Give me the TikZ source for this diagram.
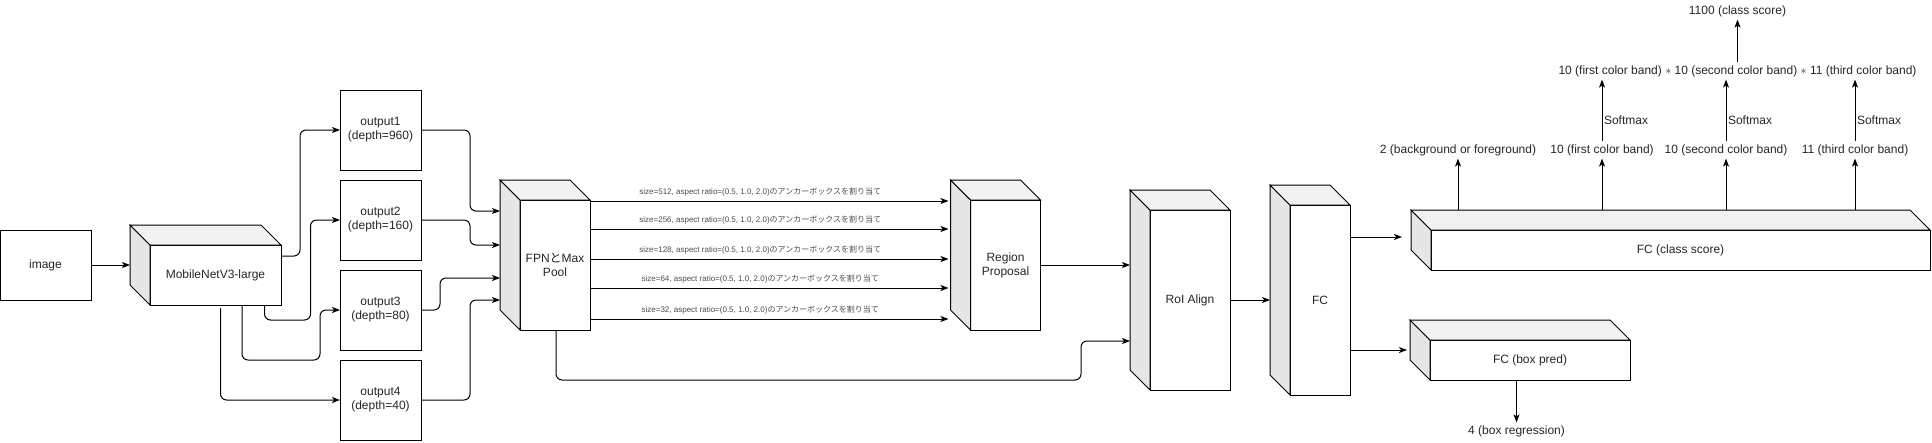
\documentclass[tikz,border=0pt]{standalone}
\usepackage{fontspec}
\setmainfont{Liberation Sans}
\newfontfamily\jp{Noto Sans CJK JP}
\usetikzlibrary{arrows.meta}
\definecolor{topgray}{HTML}{F2F2F2}
\definecolor{sidegray}{HTML}{E6E6E6}

\begin{document}
\begin{tikzpicture}[
    x=1pt, y=-1pt,
    every node/.style={outer sep=0pt, font=\fontsize{12}{14}\selectfont, text=black!85},
    box/.style={draw, line width=1pt, fill=white, align=center},
    lbl/.style={inner sep=3pt},
    tiny/.style={font=\fontsize{8}{9}\selectfont, text=black!70, inner sep=1pt},
    >={Stealth[length=8pt,width=6pt,inset=2pt]},
    every path/.style={line width=1pt}
]
\useasboundingbox (0,0) rectangle (1932,442);

% Nodes
\node[box, minimum width=91pt, minimum height=70pt] (img) at (45.5,265) {image};
\node[box, minimum width=131pt, minimum height=60pt] (mnet) at (215.5,275) {MobileNetV3-large};
\node[box, minimum width=81pt, minimum height=80pt] (out1) at (380.5,130) {output1\\(depth=960)};
\node[box, minimum width=81pt, minimum height=80pt] (out2) at (380.5,220) {output2\\(depth=160)};
\node[box, minimum width=81pt, minimum height=80pt] (out3) at (380.5,310) {output3\\(depth=80)};
\node[box, minimum width=81pt, minimum height=80pt] (out4) at (380.5,400) {output4\\(depth=40)};
\node[box, minimum width=70pt, minimum height=130pt] (fpn) at (555,265) {FPN{\jp と}Max\\Pool};
\node[box, minimum width=70pt, minimum height=130pt] (rp) at (1005.5,265) {Region\\Proposal};
\node[box, minimum width=80pt, minimum height=180pt] (roi) at (1190,300) {RoI Align};
\node[box, minimum width=60pt, minimum height=190pt] (fc) at (1320,300) {FC};
\node[box, minimum width=499pt, minimum height=40pt] (fccls) at (1680.5,250) {FC (class score)};
\node[box, minimum width=200pt, minimum height=40pt] (fcbox) at (1530,360) {FC (box pred)};

% Cube faces
\foreach \n in {mnet,fpn,rp,roi,fc,fccls,fcbox}{
  \filldraw[fill=sidegray] (\n.north west) -- ([shift={(-20,-20)}]\n.north west)
    -- ([shift={(-20,-20)}]\n.south west) -- (\n.south west) -- cycle;
  \filldraw[fill=topgray] (\n.north west) -- ([shift={(-20,-20)}]\n.north west)
    -- ([shift={(-20,-20)}]\n.north east) -- (\n.north east) -- cycle;
}

% Output labels
\node[lbl] (bg) at (1458,150) {2 (background or foreground)};
\node[lbl] (c1) at (1602,150) {10 (first color band)};
\node[lbl] (c2) at (1726,150) {10 (second color band)};
\node[lbl] (c3) at (1855,150) {11 (third color band)};
\node[lbl] (prod) at (1737.5,71) {10 (first color band) $\ast$ 10 (second color band) $\ast$ 11 (third color band)};
\node[lbl] (score) at (1737.5,11) {1100 (class score)};
\node[lbl] (reg) at (1516.5,431) {4 (box regression)};

% Edges
\draw[->] (img.east) -- ([xshift=-20pt]mnet.west |- img.east);
\begin{scope}[rounded corners=6pt]
\draw[->] ([yshift=19pt]mnet.east) -- ++(19,0) |- (out1.west);
\draw[->] ([xshift=49pt]mnet.south) |- ++(46,15) |- (out2.west);
\draw[->] ([xshift=26.5pt]mnet.south) |- ++(78,55) |- (out3.west);
\draw[->] ([xshift=5pt,yshift=-3pt]mnet.south) |- (out4.west);
\draw[->] (out1.east) -- ++(49,0) |- ([xshift=-20pt,yshift=54pt]fpn.west);
\draw[->] (out2.east) -- ++(49,0) |- ([xshift=-20pt,yshift=20pt]fpn.west);
\draw[->] (out3.east) -- ++(19,0) |- ([xshift=-20pt,yshift=-13pt]fpn.west);
\draw[->] (out4.east) -- ++(49,0) |- ([xshift=-20pt,yshift=-35pt]fpn.west);
\draw[->] ([xshift=1pt]fpn.south) |- ++(525,50) |- ([xshift=-20pt,yshift=-41pt]roi.west);
\end{scope}

\foreach \dy/\sz in {64/512, 36/256, 6/128, -23/64, -54/32}
  \draw[->] ([yshift=\dy pt]fpn.east) -- node[tiny, pos=0.475, above=4pt]
    {size=\sz, aspect ratio=(0.5, 1.0, 2.0){\jp のアンカーボックスを割り当て}}
    ([xshift=-22pt,yshift=\dy pt]rp.west);

\draw[->] (rp.east) -- ([xshift=-20pt,yshift=35pt]roi.west);
\draw[->] (roi.east) -- ([xshift=-20pt]fc.west);
\draw[->] ([yshift=63pt]fc.east) -- ([xshift=-29pt,yshift=13pt]fccls.west);
\draw[->] ([yshift=-50pt]fc.east) -- ([xshift=-23pt,yshift=10pt]fcbox.west);
\draw[->] (reg.north |- fcbox.south) -- (reg.north);

\foreach \n in {bg,c1,c2,c3}
  \draw[->] ([yshift=20pt]\n.south |- fccls.north) -- (\n.south);
\foreach \n in {c1,c2,c3}
  \draw[->] (\n.north) -- node[lbl, right, pos=0.35, inner sep=2pt] {Softmax} (\n.north |- prod.south);
\draw[->] (prod.north) -- (score.south);

\end{tikzpicture}
\end{document}
